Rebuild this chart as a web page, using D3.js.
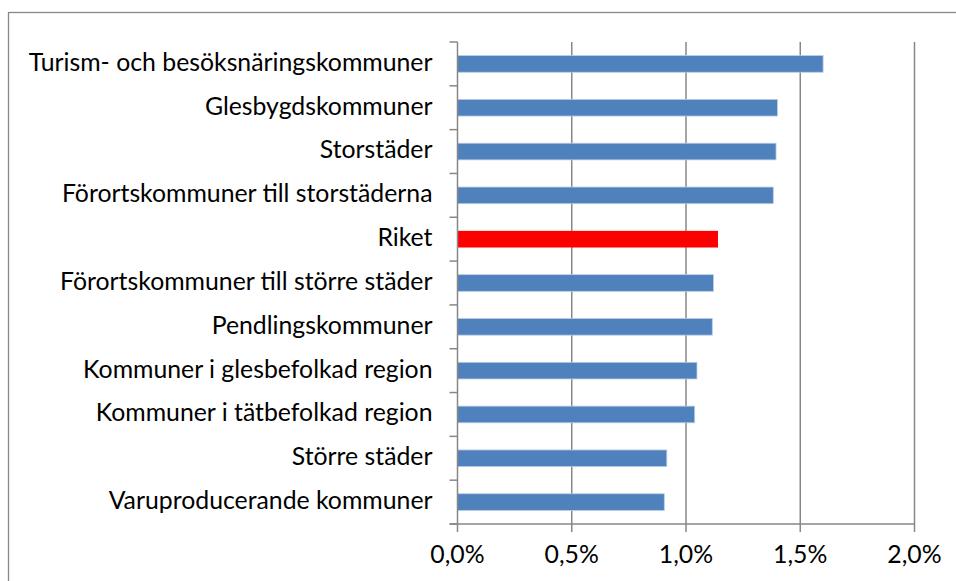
<!DOCTYPE html>
<html><head><meta charset="utf-8">
<script src="https://cdn.jsdelivr.net/npm/d3@7"></script>
<style>body{margin:0;background:#fff}svg{display:block}</style>
</head><body>
<svg id="c" width="956" height="581"></svg>
<script>
const categories = [
  "Turism- och besöksnäringskommuner",
  "Glesbygdskommuner",
  "Storstäder",
  "Förortskommuner till storstäderna",
  "Riket",
  "Förortskommuner till större städer",
  "Pendlingskommuner",
  "Kommuner i glesbefolkad region",
  "Kommuner i tätbefolkad region",
  "Större städer",
  "Varuproducerande kommuner"
];
const values = [1.60, 1.40, 1.394, 1.382, 1.14, 1.12, 1.115, 1.048, 1.038, 0.916, 0.905];
const highlight = ["Riket"];
const xTicks = [0, 0.5, 1.0, 1.5, 2.0];

(function () {
const svg = d3.select("#c");
const font = "Lato, 'Open Sans', sans-serif";
const pLeft = 457.5, pRight = 914.5, pTop = 42, pBottom = 524;

svg.append("rect").attr("x", 8.5).attr("y", 12.5).attr("width", 1000).attr("height", 1000)
  .attr("fill", "none").attr("stroke", "#888").attr("stroke-width", 1.3);

const x = d3.scaleLinear().domain([0, 2]).range([pLeft, pRight]);
const y = d3.scaleBand().domain(categories).range([pTop, pBottom]).paddingInner(0.62).paddingOuter(0.31);
const yb = d3.scaleBand().domain(categories).range([pTop, pBottom]);

svg.append("g").selectAll("line").data(xTicks.slice(1)).join("line")
  .attr("x1", d => x(d)).attr("x2", d => x(d)).attr("y1", pTop).attr("y2", pBottom)
  .attr("stroke", "#878787").attr("stroke-width", 1.5);

svg.append("g").selectAll("rect").data(categories).join("rect")
  .attr("x", x(0)).attr("y", d => y(d))
  .attr("width", (d, i) => x(values[i]) - x(0)).attr("height", y.bandwidth())
  .attr("fill", d => highlight.includes(d) ? "#FF0000" : "#4F81BD")
  .attr("stroke", d => highlight.includes(d) ? "none" : "#B9CDE5").attr("stroke-width", 0.8);

const ya = svg.append("g").attr("transform", `translate(${pLeft},0)`);
ya.append("line").attr("x1", 0).attr("x2", 0).attr("y1", pTop).attr("y2", pBottom).attr("stroke", "#878787").attr("stroke-width", 1.5);
const ticksY = categories.map(c => yb(c)).concat([pBottom]);
ya.selectAll("line.t").data(ticksY).join("line").attr("class", "t")
  .attr("x1", -8).attr("x2", 0).attr("y1", d => d).attr("y2", d => d)
  .attr("stroke", "#878787").attr("stroke-width", 1.5);
const labels = ya.selectAll("text").data(categories).join("text")
  .attr("x", -25).attr("y", d => yb(d) + yb.bandwidth() / 2)
  .attr("dy", "0.28em").attr("text-anchor", "end")
  .attr("font-family", font).attr("font-size", 20).attr("fill", "#000").text(d => d);
const w0 = labels.nodes()[0].getComputedTextLength();
const fs = 20 * 404 / w0;
labels.attr("font-size", fs);

const xa = svg.append("g");
xa.append("line").attr("x1", pLeft - 8).attr("x2", pRight).attr("y1", pBottom).attr("y2", pBottom).attr("stroke", "#878787").attr("stroke-width", 1.5);
xa.selectAll("line.t").data(xTicks).join("line").attr("class", "t")
  .attr("x1", d => x(d)).attr("x2", d => x(d)).attr("y1", pBottom).attr("y2", pBottom + 8)
  .attr("stroke", "#878787").attr("stroke-width", 1.5);
xa.selectAll("text").data(xTicks).join("text")
  .attr("x", d => x(d)).attr("y", 563).attr("text-anchor", "middle")
  .attr("font-family", font).attr("font-size", fs).attr("fill", "#000")
  .text(d => d.toFixed(1).replace(".", ",") + "%");
})();
</script>
</body></html>
